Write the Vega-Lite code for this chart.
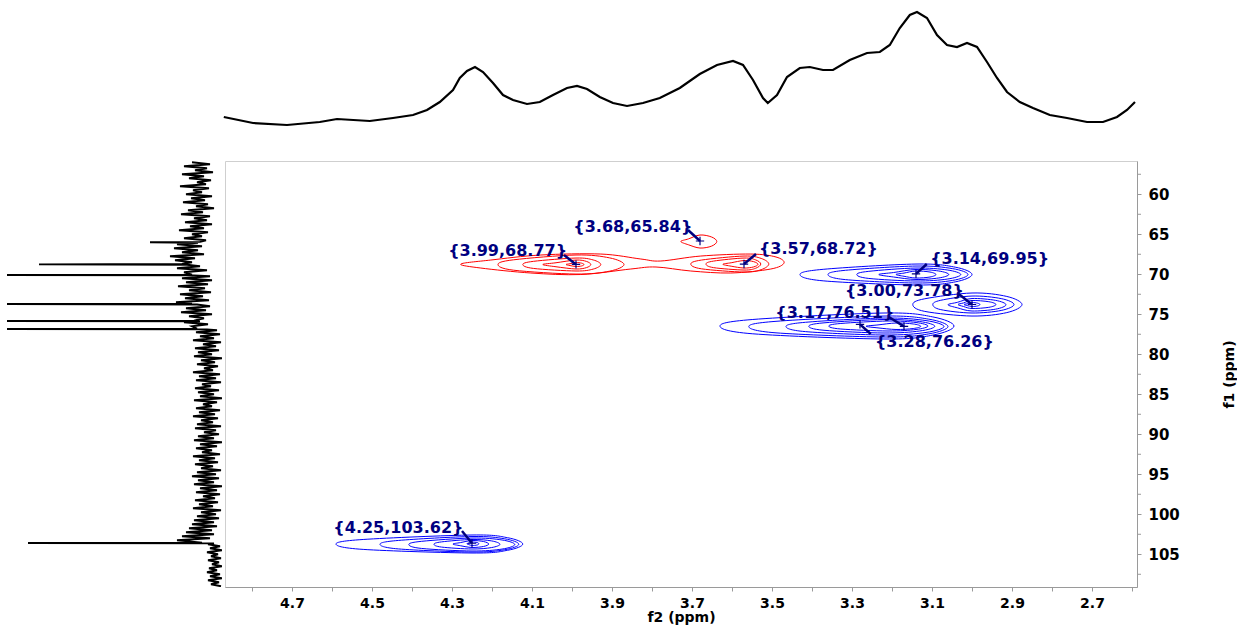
{
  "$schema": "https://vega.github.io/schema/vega-lite/v6.json",
  "padding": 0,
  "spacing": 2,
  "config": {
    "view": {"stroke": null},
    "font": "DejaVu Sans"
  },
  "datasets": {
    "proj1h": [
      {"f2":4.868,"i":41},{"f2":4.795,"i":35},{"f2":4.710,"i":33},{"f2":4.628,"i":36},{"f2":4.585,"i":39},
      {"f2":4.503,"i":37},{"f2":4.445,"i":40},{"f2":4.395,"i":43},{"f2":4.360,"i":48},{"f2":4.328,"i":56},
      {"f2":4.295,"i":68},{"f2":4.278,"i":80},{"f2":4.260,"i":87},{"f2":4.240,"i":91},{"f2":4.220,"i":86},
      {"f2":4.195,"i":75},{"f2":4.170,"i":63},{"f2":4.145,"i":58},{"f2":4.110,"i":54},{"f2":4.078,"i":56},
      {"f2":4.045,"i":63},{"f2":4.010,"i":70},{"f2":3.985,"i":72},{"f2":3.960,"i":69},{"f2":3.928,"i":61},
      {"f2":3.895,"i":55},{"f2":3.860,"i":52},{"f2":3.820,"i":55},{"f2":3.778,"i":60},{"f2":3.728,"i":70},
      {"f2":3.678,"i":84},{"f2":3.635,"i":93},{"f2":3.595,"i":97},{"f2":3.570,"i":93},{"f2":3.545,"i":78},
      {"f2":3.520,"i":60},{"f2":3.508,"i":55},{"f2":3.485,"i":63},{"f2":3.460,"i":81},{"f2":3.428,"i":90},
      {"f2":3.403,"i":91},{"f2":3.370,"i":88},{"f2":3.345,"i":88},{"f2":3.303,"i":98},{"f2":3.260,"i":105},
      {"f2":3.228,"i":106},{"f2":3.203,"i":113},{"f2":3.178,"i":130},{"f2":3.153,"i":143},{"f2":3.135,"i":146},
      {"f2":3.110,"i":140},{"f2":3.085,"i":123},{"f2":3.060,"i":113},{"f2":3.035,"i":111},{"f2":3.010,"i":115},
      {"f2":2.985,"i":111},{"f2":2.960,"i":96},{"f2":2.935,"i":80},{"f2":2.910,"i":66},{"f2":2.878,"i":56},
      {"f2":2.845,"i":50},{"f2":2.803,"i":43},{"f2":2.760,"i":40},{"f2":2.710,"i":36},{"f2":2.670,"i":36},
      {"f2":2.635,"i":41},{"f2":2.610,"i":48},{"f2":2.590,"i":56}
    ],
    "proj13c": [
      {"f1":56.00,"i":30},{"f1":56.25,"i":12},{"f1":56.50,"i":38},{"f1":56.75,"i":15},{"f1":57.00,"i":27},
      {"f1":57.25,"i":9},{"f1":57.50,"i":40},{"f1":57.75,"i":18},{"f1":58.00,"i":33},{"f1":58.25,"i":11},
      {"f1":58.50,"i":25},{"f1":58.75,"i":16},{"f1":59.00,"i":42},{"f1":59.25,"i":13},{"f1":59.50,"i":29},
      {"f1":59.75,"i":20},{"f1":60.00,"i":36},{"f1":60.25,"i":10},{"f1":60.50,"i":31},{"f1":60.75,"i":17},
      {"f1":61.00,"i":39},{"f1":61.25,"i":14},{"f1":61.50,"i":26},{"f1":61.75,"i":8},{"f1":62.00,"i":34},
      {"f1":62.25,"i":19},{"f1":62.50,"i":41},{"f1":62.75,"i":12},{"f1":63.00,"i":28},{"f1":63.25,"i":15},
      {"f1":63.50,"i":37},{"f1":63.75,"i":10},{"f1":64.00,"i":32},{"f1":64.25,"i":18},{"f1":64.50,"i":43},
      {"f1":64.75,"i":14},{"f1":65.00,"i":30},{"f1":65.25,"i":20},{"f1":65.50,"i":38},{"f1":65.75,"i":16},
      {"f1":65.95,"i":22},{"f1":66.00,"i":72},{"f1":66.05,"i":24},
      {"f1":66.25,"i":45},{"f1":66.50,"i":20},{"f1":66.75,"i":48},{"f1":67.00,"i":24},{"f1":67.25,"i":40},
      {"f1":67.50,"i":18},{"f1":67.75,"i":52},{"f1":68.00,"i":27},{"f1":68.25,"i":47},{"f1":68.50,"i":30},
      {"f1":68.71,"i":40},{"f1":68.76,"i":183},{"f1":68.81,"i":35},
      {"f1":69.00,"i":22},{"f1":69.25,"i":45},{"f1":69.50,"i":15},{"f1":69.75,"i":38},
      {"f1":70.04,"i":30},{"f1":70.09,"i":215},{"f1":70.14,"i":28},
      {"f1":70.25,"i":12},{"f1":70.50,"i":40},{"f1":70.75,"i":10},{"f1":71.00,"i":36},{"f1":71.25,"i":14},
      {"f1":71.50,"i":44},{"f1":71.75,"i":17},{"f1":72.00,"i":33},{"f1":72.25,"i":11},{"f1":72.50,"i":42},
      {"f1":72.75,"i":19},{"f1":73.00,"i":37},{"f1":73.25,"i":13},{"f1":73.50,"i":46},
      {"f1":73.67,"i":30},{"f1":73.72,"i":215},{"f1":73.77,"i":25},
      {"f1":74.00,"i":12},{"f1":74.25,"i":36},{"f1":74.50,"i":16},{"f1":74.75,"i":41},{"f1":75.00,"i":10},
      {"f1":75.25,"i":33},{"f1":75.50,"i":18},
      {"f1":75.79,"i":28},{"f1":75.84,"i":215},{"f1":75.89,"i":22},
      {"f1":76.00,"i":38},{"f1":76.25,"i":14},{"f1":76.50,"i":30},
      {"f1":76.79,"i":25},{"f1":76.84,"i":215},{"f1":76.89,"i":15},
      {"f1":77.00,"i":5},{"f1":77.25,"i":26},{"f1":77.50,"i":2},{"f1":77.75,"i":22},{"f1":78.00,"i":8},
      {"f1":78.25,"i":29},{"f1":78.50,"i":1},{"f1":78.75,"i":19},{"f1":79.00,"i":6},{"f1":79.25,"i":27},
      {"f1":79.50,"i":3},{"f1":79.75,"i":24},{"f1":80.00,"i":10},{"f1":80.25,"i":28},{"f1":80.50,"i":0},
      {"f1":80.75,"i":21},{"f1":81.00,"i":7},{"f1":81.25,"i":25},{"f1":81.50,"i":4},{"f1":81.75,"i":18},
      {"f1":82.00,"i":9},{"f1":82.25,"i":29},{"f1":82.50,"i":2},{"f1":82.75,"i":23},{"f1":83.00,"i":6},
      {"f1":83.25,"i":26},{"f1":83.50,"i":1},{"f1":83.75,"i":20},{"f1":84.00,"i":11},{"f1":84.25,"i":27},
      {"f1":84.50,"i":3},{"f1":84.75,"i":24},{"f1":85.00,"i":8},{"f1":85.25,"i":22},{"f1":85.50,"i":0},
      {"f1":85.75,"i":28},{"f1":86.00,"i":5},{"f1":86.25,"i":19},{"f1":86.50,"i":10},{"f1":86.75,"i":26},
      {"f1":87.00,"i":2},{"f1":87.25,"i":23},{"f1":87.50,"i":7},{"f1":87.75,"i":29},{"f1":88.00,"i":4},
      {"f1":88.25,"i":21},{"f1":88.50,"i":9},{"f1":88.75,"i":25},{"f1":89.00,"i":1},{"f1":89.25,"i":27},
      {"f1":89.50,"i":6},{"f1":89.75,"i":18},{"f1":90.00,"i":3},{"f1":90.25,"i":24},{"f1":90.50,"i":8},
      {"f1":90.75,"i":28},{"f1":91.00,"i":0},{"f1":91.25,"i":22},{"f1":91.50,"i":5},{"f1":91.75,"i":26},
      {"f1":92.00,"i":10},{"f1":92.25,"i":20},{"f1":92.50,"i":2},{"f1":92.75,"i":29},{"f1":93.00,"i":7},
      {"f1":93.25,"i":23},{"f1":93.50,"i":4},{"f1":93.75,"i":27},{"f1":94.00,"i":9},{"f1":94.25,"i":21},
      {"f1":94.50,"i":1},{"f1":94.75,"i":25},{"f1":95.00,"i":6},{"f1":95.25,"i":30},{"f1":95.50,"i":3},
      {"f1":95.75,"i":24},{"f1":96.00,"i":8},{"f1":96.25,"i":28},{"f1":96.50,"i":0},{"f1":96.75,"i":22},
      {"f1":97.00,"i":5},{"f1":97.25,"i":26},{"f1":97.50,"i":2},{"f1":97.75,"i":19},{"f1":98.00,"i":7},
      {"f1":98.25,"i":27},{"f1":98.50,"i":4},{"f1":98.75,"i":23},{"f1":99.00,"i":9},{"f1":99.25,"i":29},
      {"f1":99.50,"i":1},{"f1":99.75,"i":21},{"f1":100.00,"i":6},{"f1":100.25,"i":25},{"f1":100.50,"i":3},
      {"f1":100.75,"i":28},{"f1":101.00,"i":8},{"f1":101.25,"i":30},{"f1":101.50,"i":5},{"f1":101.75,"i":33},
      {"f1":102.00,"i":10},{"f1":102.25,"i":36},{"f1":102.50,"i":8},{"f1":102.75,"i":40},{"f1":103.00,"i":12},
      {"f1":103.25,"i":45},
      {"f1":103.54,"i":20},{"f1":103.59,"i":194},{"f1":103.64,"i":8},
      {"f1":103.75,"i":14},{"f1":104.00,"i":2},{"f1":104.25,"i":12},{"f1":104.50,"i":0},{"f1":104.75,"i":15},
      {"f1":105.00,"i":4},{"f1":105.25,"i":11},{"f1":105.50,"i":1},{"f1":105.75,"i":14},{"f1":106.00,"i":3},
      {"f1":106.25,"i":10},{"f1":106.50,"i":0},{"f1":106.75,"i":13},{"f1":107.00,"i":5},{"f1":107.25,"i":15},
      {"f1":107.50,"i":2},{"f1":107.75,"i":12},{"f1":108.00,"i":0},{"f1":108.25,"i":14},{"f1":108.50,"i":3},
      {"f1":108.75,"i":11},{"f1":109.00,"i":1}
    ],
    "yminor": [
      {"f1":57.5},{"f1":62.5},{"f1":67.5},{"f1":72.5},{"f1":77.5},{"f1":82.5},
      {"f1":87.5},{"f1":92.5},{"f1":97.5},{"f1":102.5},{"f1":107.5}
    ],
    "contours": [
      {"c":"R0","s":"neg","k":0,"x":4.278,"y":68.72},{"c":"R0","s":"neg","k":1,"x":4.203,"y":68.22},
      {"c":"R0","s":"neg","k":2,"x":4.078,"y":67.59},{"c":"R0","s":"neg","k":3,"x":3.928,"y":67.47},
      {"c":"R0","s":"neg","k":4,"x":3.828,"y":68.09},{"c":"R0","s":"neg","k":5,"x":3.778,"y":68.34},
      {"c":"R0","s":"neg","k":6,"x":3.678,"y":67.72},{"c":"R0","s":"neg","k":7,"x":3.553,"y":67.47},
      {"c":"R0","s":"neg","k":8,"x":3.490,"y":67.84},{"c":"R0","s":"neg","k":9,"x":3.470,"y":68.59},
      {"c":"R0","s":"neg","k":10,"x":3.503,"y":69.34},{"c":"R0","s":"neg","k":11,"x":3.603,"y":69.84},
      {"c":"R0","s":"neg","k":12,"x":3.703,"y":69.59},{"c":"R0","s":"neg","k":13,"x":3.790,"y":69.09},
      {"c":"R0","s":"neg","k":14,"x":3.853,"y":69.34},{"c":"R0","s":"neg","k":15,"x":3.978,"y":70.03},
      {"c":"R0","s":"neg","k":16,"x":4.103,"y":69.84},{"c":"R0","s":"neg","k":17,"x":4.228,"y":69.22},

      {"c":"R1","s":"neg","k":0,"x":4.185,"y":68.78},{"c":"R1","s":"neg","k":1,"x":4.146,"y":68.19},
      {"c":"R1","s":"neg","k":2,"x":3.990,"y":67.59},{"c":"R1","s":"neg","k":3,"x":3.906,"y":67.95},
      {"c":"R1","s":"neg","k":4,"x":3.870,"y":68.78},{"c":"R1","s":"neg","k":5,"x":3.906,"y":69.61},
      {"c":"R1","s":"neg","k":6,"x":3.990,"y":69.97},{"c":"R1","s":"neg","k":7,"x":4.146,"y":69.49},

      {"c":"R2","s":"neg","k":0,"x":4.123,"y":68.78},{"c":"R2","s":"neg","k":1,"x":4.096,"y":68.38},
      {"c":"R2","s":"neg","k":2,"x":3.990,"y":67.97},{"c":"R2","s":"neg","k":3,"x":3.947,"y":68.21},
      {"c":"R2","s":"neg","k":4,"x":3.928,"y":68.78},{"c":"R2","s":"neg","k":5,"x":3.947,"y":69.35},
      {"c":"R2","s":"neg","k":6,"x":3.990,"y":69.59},{"c":"R2","s":"neg","k":7,"x":4.096,"y":69.27},

      {"c":"R3","s":"neg","k":0,"x":4.073,"y":68.78},{"c":"R3","s":"neg","k":1,"x":4.040,"y":68.56},
      {"c":"R3","s":"neg","k":2,"x":3.990,"y":68.22},{"c":"R3","s":"neg","k":3,"x":3.964,"y":68.39},
      {"c":"R3","s":"neg","k":4,"x":3.953,"y":68.78},{"c":"R3","s":"neg","k":5,"x":3.964,"y":69.17},
      {"c":"R3","s":"neg","k":6,"x":3.990,"y":69.34},{"c":"R3","s":"neg","k":7,"x":4.040,"y":69.06},

      {"c":"R4","s":"neg","k":0,"x":4.015,"y":68.78},{"c":"R4","s":"neg","k":1,"x":4.005,"y":68.68},
      {"c":"R4","s":"neg","k":2,"x":3.990,"y":68.53},{"c":"R4","s":"neg","k":3,"x":3.976,"y":68.61},
      {"c":"R4","s":"neg","k":4,"x":3.970,"y":68.78},{"c":"R4","s":"neg","k":5,"x":3.976,"y":68.96},
      {"c":"R4","s":"neg","k":6,"x":3.990,"y":69.03},{"c":"R4","s":"neg","k":7,"x":4.005,"y":68.91},

      {"c":"R5","s":"neg","k":0,"x":3.703,"y":68.72},{"c":"R5","s":"neg","k":1,"x":3.676,"y":68.22},
      {"c":"R5","s":"neg","k":2,"x":3.570,"y":67.72},{"c":"R5","s":"neg","k":3,"x":3.527,"y":68.02},
      {"c":"R5","s":"neg","k":4,"x":3.508,"y":68.72},{"c":"R5","s":"neg","k":5,"x":3.527,"y":69.42},
      {"c":"R5","s":"neg","k":6,"x":3.570,"y":69.72},{"c":"R5","s":"neg","k":7,"x":3.676,"y":69.32},

      {"c":"R6","s":"neg","k":0,"x":3.665,"y":68.72},{"c":"R6","s":"neg","k":1,"x":3.646,"y":68.35},
      {"c":"R6","s":"neg","k":2,"x":3.570,"y":67.97},{"c":"R6","s":"neg","k":3,"x":3.541,"y":68.20},
      {"c":"R6","s":"neg","k":4,"x":3.528,"y":68.72},{"c":"R6","s":"neg","k":5,"x":3.541,"y":69.25},
      {"c":"R6","s":"neg","k":6,"x":3.570,"y":69.47},{"c":"R6","s":"neg","k":7,"x":3.646,"y":69.17},

      {"c":"R7","s":"neg","k":0,"x":3.623,"y":68.75},{"c":"R7","s":"neg","k":1,"x":3.602,"y":68.56},
      {"c":"R7","s":"neg","k":2,"x":3.570,"y":68.28},{"c":"R7","s":"neg","k":3,"x":3.546,"y":68.42},
      {"c":"R7","s":"neg","k":4,"x":3.535,"y":68.75},{"c":"R7","s":"neg","k":5,"x":3.546,"y":69.08},
      {"c":"R7","s":"neg","k":6,"x":3.570,"y":69.22},{"c":"R7","s":"neg","k":7,"x":3.602,"y":68.99},

      {"c":"R8","s":"neg","k":0,"x":3.728,"y":65.90},{"c":"R8","s":"neg","k":1,"x":3.709,"y":65.58},
      {"c":"R8","s":"neg","k":2,"x":3.680,"y":65.09},{"c":"R8","s":"neg","k":3,"x":3.651,"y":65.34},
      {"c":"R8","s":"neg","k":4,"x":3.638,"y":65.90},{"c":"R8","s":"neg","k":5,"x":3.651,"y":66.48},
      {"c":"R8","s":"neg","k":6,"x":3.680,"y":66.72},{"c":"R8","s":"neg","k":7,"x":3.709,"y":66.31},

      {"c":"A1","s":"pos","k":0,"x":3.430,"y":70.03},{"c":"A1","s":"pos","k":1,"x":3.372,"y":69.38},
      {"c":"A1","s":"pos","k":2,"x":3.140,"y":68.72},{"c":"A1","s":"pos","k":3,"x":3.042,"y":69.11},
      {"c":"A1","s":"pos","k":4,"x":3.000,"y":70.03},{"c":"A1","s":"pos","k":5,"x":3.042,"y":70.95},
      {"c":"A1","s":"pos","k":6,"x":3.140,"y":71.34},{"c":"A1","s":"pos","k":7,"x":3.372,"y":70.82},

      {"c":"A2","s":"pos","k":0,"x":3.360,"y":70.03},{"c":"A2","s":"pos","k":1,"x":3.316,"y":69.50},
      {"c":"A2","s":"pos","k":2,"x":3.140,"y":68.97},{"c":"A2","s":"pos","k":3,"x":3.049,"y":69.29},
      {"c":"A2","s":"pos","k":4,"x":3.010,"y":70.03},{"c":"A2","s":"pos","k":5,"x":3.049,"y":70.77},
      {"c":"A2","s":"pos","k":6,"x":3.140,"y":71.09},{"c":"A2","s":"pos","k":7,"x":3.316,"y":70.67},

      {"c":"A3","s":"pos","k":0,"x":3.288,"y":70.03},{"c":"A3","s":"pos","k":1,"x":3.258,"y":69.63},
      {"c":"A3","s":"pos","k":2,"x":3.140,"y":69.22},{"c":"A3","s":"pos","k":3,"x":3.062,"y":69.46},
      {"c":"A3","s":"pos","k":4,"x":3.028,"y":70.03},{"c":"A3","s":"pos","k":5,"x":3.062,"y":70.60},
      {"c":"A3","s":"pos","k":6,"x":3.140,"y":70.84},{"c":"A3","s":"pos","k":7,"x":3.258,"y":70.52},

      {"c":"A4","s":"pos","k":0,"x":3.233,"y":70.03},{"c":"A4","s":"pos","k":1,"x":3.196,"y":69.78},
      {"c":"A4","s":"pos","k":2,"x":3.140,"y":69.40},{"c":"A4","s":"pos","k":3,"x":3.083,"y":69.59},
      {"c":"A4","s":"pos","k":4,"x":3.058,"y":70.03},{"c":"A4","s":"pos","k":5,"x":3.083,"y":70.46},
      {"c":"A4","s":"pos","k":6,"x":3.140,"y":70.65},{"c":"A4","s":"pos","k":7,"x":3.196,"y":70.34},

      {"c":"A5","s":"pos","k":0,"x":3.190,"y":70.03},{"c":"A5","s":"pos","k":1,"x":3.170,"y":69.85},
      {"c":"A5","s":"pos","k":2,"x":3.140,"y":69.59},{"c":"A5","s":"pos","k":3,"x":3.105,"y":69.72},
      {"c":"A5","s":"pos","k":4,"x":3.090,"y":70.03},{"c":"A5","s":"pos","k":5,"x":3.105,"y":70.34},
      {"c":"A5","s":"pos","k":6,"x":3.140,"y":70.47},{"c":"A5","s":"pos","k":7,"x":3.170,"y":70.25},

      {"c":"B1","s":"pos","k":0,"x":3.148,"y":73.78},{"c":"B1","s":"pos","k":1,"x":3.118,"y":73.06},
      {"c":"B1","s":"pos","k":2,"x":3.000,"y":72.34},{"c":"B1","s":"pos","k":3,"x":2.913,"y":72.77},
      {"c":"B1","s":"pos","k":4,"x":2.875,"y":73.78},{"c":"B1","s":"pos","k":5,"x":2.913,"y":74.79},
      {"c":"B1","s":"pos","k":6,"x":3.000,"y":75.22},{"c":"B1","s":"pos","k":7,"x":3.118,"y":74.64},

      {"c":"B2","s":"pos","k":0,"x":3.098,"y":73.78},{"c":"B2","s":"pos","k":1,"x":3.078,"y":73.25},
      {"c":"B2","s":"pos","k":2,"x":3.000,"y":72.72},{"c":"B2","s":"pos","k":3,"x":2.927,"y":73.04},
      {"c":"B2","s":"pos","k":4,"x":2.895,"y":73.78},{"c":"B2","s":"pos","k":5,"x":2.927,"y":74.52},
      {"c":"B2","s":"pos","k":6,"x":3.000,"y":74.84},{"c":"B2","s":"pos","k":7,"x":3.078,"y":74.42},

      {"c":"B3","s":"pos","k":0,"x":3.060,"y":73.81},{"c":"B3","s":"pos","k":1,"x":3.036,"y":73.50},
      {"c":"B3","s":"pos","k":2,"x":3.000,"y":73.03},{"c":"B3","s":"pos","k":3,"x":2.941,"y":73.26},
      {"c":"B3","s":"pos","k":4,"x":2.915,"y":73.81},{"c":"B3","s":"pos","k":5,"x":2.941,"y":74.36},
      {"c":"B3","s":"pos","k":6,"x":3.000,"y":74.59},{"c":"B3","s":"pos","k":7,"x":3.036,"y":74.20},

      {"c":"B4","s":"pos","k":0,"x":3.035,"y":73.78},{"c":"B4","s":"pos","k":1,"x":3.021,"y":73.58},
      {"c":"B4","s":"pos","k":2,"x":3.000,"y":73.28},{"c":"B4","s":"pos","k":3,"x":2.958,"y":73.43},
      {"c":"B4","s":"pos","k":4,"x":2.940,"y":73.78},{"c":"B4","s":"pos","k":5,"x":2.958,"y":74.13},
      {"c":"B4","s":"pos","k":6,"x":3.000,"y":74.28},{"c":"B4","s":"pos","k":7,"x":3.021,"y":74.03},

      {"c":"B5","s":"pos","k":0,"x":3.020,"y":73.78},{"c":"B5","s":"pos","k":1,"x":3.012,"y":73.68},
      {"c":"B5","s":"pos","k":2,"x":3.000,"y":73.53},{"c":"B5","s":"pos","k":3,"x":2.986,"y":73.61},
      {"c":"B5","s":"pos","k":4,"x":2.980,"y":73.78},{"c":"B5","s":"pos","k":5,"x":2.986,"y":73.96},
      {"c":"B5","s":"pos","k":6,"x":3.000,"y":74.03},{"c":"B5","s":"pos","k":7,"x":3.012,"y":73.91},

      {"c":"C1","s":"pos","k":0,"x":3.630,"y":76.47},{"c":"C1","s":"pos","k":1,"x":3.548,"y":75.65},
      {"c":"C1","s":"pos","k":2,"x":3.220,"y":74.84},{"c":"C1","s":"pos","k":3,"x":3.098,"y":75.33},
      {"c":"C1","s":"pos","k":4,"x":3.045,"y":76.47},{"c":"C1","s":"pos","k":5,"x":3.098,"y":77.60},
      {"c":"C1","s":"pos","k":6,"x":3.220,"y":78.09},{"c":"C1","s":"pos","k":7,"x":3.548,"y":77.44},

      {"c":"C2","s":"pos","k":0,"x":3.558,"y":76.53},{"c":"C2","s":"pos","k":1,"x":3.490,"y":75.88},
      {"c":"C2","s":"pos","k":2,"x":3.220,"y":75.22},{"c":"C2","s":"pos","k":3,"x":3.108,"y":75.61},
      {"c":"C2","s":"pos","k":4,"x":3.060,"y":76.53},{"c":"C2","s":"pos","k":5,"x":3.108,"y":77.45},
      {"c":"C2","s":"pos","k":6,"x":3.220,"y":77.84},{"c":"C2","s":"pos","k":7,"x":3.490,"y":77.32},

      {"c":"C3","s":"pos","k":0,"x":3.465,"y":76.53},{"c":"C3","s":"pos","k":1,"x":3.416,"y":76.00},
      {"c":"C3","s":"pos","k":2,"x":3.220,"y":75.47},{"c":"C3","s":"pos","k":3,"x":3.115,"y":75.79},
      {"c":"C3","s":"pos","k":4,"x":3.070,"y":76.53},{"c":"C3","s":"pos","k":5,"x":3.115,"y":77.27},
      {"c":"C3","s":"pos","k":6,"x":3.220,"y":77.59},{"c":"C3","s":"pos","k":7,"x":3.416,"y":77.17},

      {"c":"C4","s":"pos","k":0,"x":3.408,"y":76.50},{"c":"C4","s":"pos","k":1,"x":3.370,"y":76.07},
      {"c":"C4","s":"pos","k":2,"x":3.220,"y":75.65},{"c":"C4","s":"pos","k":3,"x":3.131,"y":75.90},
      {"c":"C4","s":"pos","k":4,"x":3.093,"y":76.50},{"c":"C4","s":"pos","k":5,"x":3.131,"y":77.09},
      {"c":"C4","s":"pos","k":6,"x":3.220,"y":77.34},{"c":"C4","s":"pos","k":7,"x":3.370,"y":77.00},

      {"c":"C5","s":"pos","k":0,"x":3.358,"y":76.47},{"c":"C5","s":"pos","k":1,"x":3.328,"y":76.15},
      {"c":"C5","s":"pos","k":2,"x":3.210,"y":75.84},{"c":"C5","s":"pos","k":3,"x":3.140,"y":76.03},
      {"c":"C5","s":"pos","k":4,"x":3.110,"y":76.47},{"c":"C5","s":"pos","k":5,"x":3.140,"y":76.90},
      {"c":"C5","s":"pos","k":6,"x":3.210,"y":77.09},{"c":"C5","s":"pos","k":7,"x":3.328,"y":76.84},

      {"c":"C6","s":"pos","k":0,"x":3.265,"y":76.50},{"c":"C6","s":"pos","k":1,"x":3.235,"y":76.33},
      {"c":"C6","s":"pos","k":2,"x":3.190,"y":76.09},{"c":"C6","s":"pos","k":3,"x":3.147,"y":76.21},
      {"c":"C6","s":"pos","k":4,"x":3.128,"y":76.50},{"c":"C6","s":"pos","k":5,"x":3.147,"y":76.78},
      {"c":"C6","s":"pos","k":6,"x":3.190,"y":76.90},{"c":"C6","s":"pos","k":7,"x":3.235,"y":76.70},

      {"c":"D1","s":"pos","k":0,"x":4.590,"y":103.72},{"c":"D1","s":"pos","k":1,"x":4.522,"y":103.15},
      {"c":"D1","s":"pos","k":2,"x":4.250,"y":102.59},{"c":"D1","s":"pos","k":3,"x":4.161,"y":102.93},
      {"c":"D1","s":"pos","k":4,"x":4.123,"y":103.72},{"c":"D1","s":"pos","k":5,"x":4.161,"y":104.50},
      {"c":"D1","s":"pos","k":6,"x":4.250,"y":104.84},{"c":"D1","s":"pos","k":7,"x":4.522,"y":104.39},

      {"c":"D2","s":"pos","k":0,"x":4.480,"y":103.75},{"c":"D2","s":"pos","k":1,"x":4.434,"y":103.27},
      {"c":"D2","s":"pos","k":2,"x":4.250,"y":102.78},{"c":"D2","s":"pos","k":3,"x":4.168,"y":103.07},
      {"c":"D2","s":"pos","k":4,"x":4.133,"y":103.75},{"c":"D2","s":"pos","k":5,"x":4.168,"y":104.43},
      {"c":"D2","s":"pos","k":6,"x":4.250,"y":104.72},{"c":"D2","s":"pos","k":7,"x":4.434,"y":104.33},

      {"c":"D3","s":"pos","k":0,"x":4.408,"y":103.78},{"c":"D3","s":"pos","k":1,"x":4.376,"y":103.38},
      {"c":"D3","s":"pos","k":2,"x":4.250,"y":102.97},{"c":"D3","s":"pos","k":3,"x":4.175,"y":103.21},
      {"c":"D3","s":"pos","k":4,"x":4.143,"y":103.78},{"c":"D3","s":"pos","k":5,"x":4.175,"y":104.35},
      {"c":"D3","s":"pos","k":6,"x":4.250,"y":104.59},{"c":"D3","s":"pos","k":7,"x":4.376,"y":104.27},

      {"c":"D4","s":"pos","k":0,"x":4.345,"y":103.75},{"c":"D4","s":"pos","k":1,"x":4.326,"y":103.45},
      {"c":"D4","s":"pos","k":2,"x":4.250,"y":103.15},{"c":"D4","s":"pos","k":3,"x":4.201,"y":103.33},
      {"c":"D4","s":"pos","k":4,"x":4.180,"y":103.75},{"c":"D4","s":"pos","k":5,"x":4.201,"y":104.16},
      {"c":"D4","s":"pos","k":6,"x":4.250,"y":104.34},{"c":"D4","s":"pos","k":7,"x":4.326,"y":104.10},

      {"c":"D5","s":"pos","k":0,"x":4.298,"y":103.72},{"c":"D5","s":"pos","k":1,"x":4.279,"y":103.54},
      {"c":"D5","s":"pos","k":2,"x":4.250,"y":103.28},{"c":"D5","s":"pos","k":3,"x":4.221,"y":103.41},
      {"c":"D5","s":"pos","k":4,"x":4.208,"y":103.72},{"c":"D5","s":"pos","k":5,"x":4.221,"y":104.02},
      {"c":"D5","s":"pos","k":6,"x":4.250,"y":104.15},{"c":"D5","s":"pos","k":7,"x":4.279,"y":103.93},

      {"c":"D6","s":"pos","k":0,"x":4.263,"y":103.69},{"c":"D6","s":"pos","k":1,"x":4.258,"y":103.60},
      {"c":"D6","s":"pos","k":2,"x":4.250,"y":103.47},{"c":"D6","s":"pos","k":3,"x":4.237,"y":103.53},
      {"c":"D6","s":"pos","k":4,"x":4.233,"y":103.69},{"c":"D6","s":"pos","k":5,"x":4.237,"y":103.84},
      {"c":"D6","s":"pos","k":6,"x":4.250,"y":103.90},{"c":"D6","s":"pos","k":7,"x":4.258,"y":103.79}
    ],
    "peaks": [
      {"t":"{3.68,65.84}","px":3.68,"py":65.84,"ax":3.710,"ay":64.47,"lx":3.848,"ly":64.09},
      {"t":"{3.99,68.77}","px":3.99,"py":68.77,"ax":4.020,"ay":67.59,"lx":4.161,"ly":67.03},
      {"t":"{3.57,68.72}","px":3.57,"py":68.72,"ax":3.540,"ay":67.47,"lx":3.384,"ly":66.90},
      {"t":"{3.14,69.95}","px":3.14,"py":69.95,"ax":3.113,"ay":68.72,"lx":2.956,"ly":68.15},
      {"t":"{3.00,73.78}","px":3.00,"py":73.78,"ax":3.033,"ay":72.47,"lx":3.169,"ly":72.09},
      {"t":"{3.17,76.51}","px":3.17,"py":76.51,"ax":3.208,"ay":75.34,"lx":3.343,"ly":74.84},
      {"t":"{3.28,76.26}","px":3.28,"py":76.26,"ax":3.253,"ay":77.47,"lx":3.094,"ly":78.47},
      {"t":"{4.25,103.62}","px":4.25,"py":103.62,"ax":4.275,"ay":102.09,"lx":4.434,"ly":101.72}
    ]
  },
  "vconcat": [
    {
      "width": 1136,
      "height": 158,
      "data": {"name": "proj1h"},
      "mark": {"type": "line", "color": "#000000", "strokeWidth": 2.2},
      "encoding": {
        "x": {"field": "f2", "type": "quantitative", "scale": {"domain": [2.5875, 5.4275], "reverse": true, "nice": false, "zero": false}, "axis": null},
        "y": {"field": "i", "type": "quantitative", "scale": {"domain": [0, 158], "nice": false, "zero": false}, "axis": null}
      }
    },
    {
      "spacing": 2,
      "resolve": {"scale": {"x": "independent", "y": "independent"}},
      "hconcat": [
        {
          "width": 222,
          "height": 426,
          "data": {"name": "proj13c"},
          "mark": {"type": "line", "color": "#000000", "strokeWidth": 1.9, "clip": true},
          "encoding": {
            "x": {"field": "i", "type": "quantitative", "scale": {"domain": [0, 222], "reverse": true, "nice": false, "zero": false}, "axis": null},
            "y": {"field": "f1", "type": "quantitative", "scale": {"domain": [55.84, 109.09], "reverse": true, "nice": false, "zero": false}, "axis": null},
            "order": {"field": "f1", "type": "quantitative"}
          }
        },
        {
          "width": 912,
          "height": 426,
          "view": {"stroke": "#cfcfcf"},
          "layer": [
            {
              "data": {"name": "contours"},
              "mark": {"type": "line", "interpolate": "cardinal-closed", "strokeWidth": 1},
              "encoding": {
                "x": {
                  "field": "x", "type": "quantitative",
                  "scale": {"domain": [2.5875, 4.8675], "reverse": true, "nice": false, "zero": false},
                  "axis": {
                    "orient": "bottom",
                    "values": [4.85,4.8,4.75,4.7,4.65,4.6,4.55,4.5,4.45,4.4,4.35,4.3,4.25,4.2,4.15,4.1,4.05,4,3.95,3.9,3.85,3.8,3.75,3.7,3.65,3.6,3.55,3.5,3.45,3.4,3.35,3.3,3.25,3.2,3.15,3.1,3.05,3,2.95,2.9,2.85,2.8,2.75,2.7,2.65,2.6],
                    "labelExpr": "round(datum.value*100) % 20 === 10 ? format(datum.value, '.1f') : ''",
                    "labelOverlap": false,
                    "labelFlush": false,
                    "grid": false,
                    "domainColor": "#9a9a9a",
                    "tickColor": "#9a9a9a",
                    "tickSize": 4,
                    "labelFont": "DejaVu Sans",
                    "labelFontSize": 14,
                    "labelFontWeight": "bold",
                    "labelColor": "#000000",
                    "labelPadding": 5,
                    "title": "f2 (ppm)",
                    "titleFont": "DejaVu Sans",
                    "titleFontSize": 14,
                    "titleFontWeight": "bold",
                    "titleColor": "#000000",
                    "titlePadding": 0
                  }
                },
                "y": {
                  "field": "y", "type": "quantitative",
                  "scale": {"domain": [55.84, 109.09], "reverse": true, "nice": false, "zero": false},
                  "axis": {
                    "orient": "right",
                    "values": [60,65,70,75,80,85,90,95,100,105],
                    "format": "d",
                    "labelOverlap": false,
                    "grid": false,
                    "domainColor": "#9a9a9a",
                    "tickColor": "#9a9a9a",
                    "tickSize": 4,
                    "labelFont": "DejaVu Sans",
                    "labelFontSize": 15,
                    "labelFontWeight": "bold",
                    "labelColor": "#000000",
                    "labelPadding": 7,
                    "title": "f1 (ppm)",
                    "titleAngle": 270,
                    "titleFont": "DejaVu Sans",
                    "titleFontSize": 14,
                    "titleFontWeight": "bold",
                    "titleColor": "#000000",
                    "titlePadding": 57
                  }
                },
                "color": {"field": "s", "type": "nominal", "scale": {"domain": ["neg", "pos"], "range": ["#ff0000", "#0000ff"]}, "legend": null},
                "detail": {"field": "c"},
                "order": {"field": "k", "type": "quantitative"}
              }
            },
            {
              "data": {"name": "yminor"},
              "mark": {"type": "rule", "color": "#9a9a9a", "strokeWidth": 1},
              "encoding": {
                "x": {"datum": 2.5875, "type": "quantitative", "title": "f2 (ppm)"},
                "x2": {"datum": 2.5775},
                "y": {"field": "f1", "type": "quantitative", "title": "f1 (ppm)"}
              }
            },
            {
              "data": {"name": "peaks"},
              "mark": {"type": "rule", "color": "#000080", "strokeWidth": 2.5},
              "encoding": {
                "x": {"field": "ax", "type": "quantitative", "title": "f2 (ppm)"},
                "y": {"field": "ay", "type": "quantitative", "title": "f1 (ppm)"},
                "x2": {"field": "px"},
                "y2": {"field": "py"}
              }
            },
            {
              "data": {"name": "peaks"},
              "mark": {"type": "point", "shape": "M-1,0L1,0M0,-1L0,1", "size": 70, "filled": false, "stroke": "#000080", "strokeWidth": 1.2, "opacity": 1},
              "encoding": {
                "x": {"field": "px", "type": "quantitative", "title": "f2 (ppm)"},
                "y": {"field": "py", "type": "quantitative", "title": "f1 (ppm)"}
              }
            },
            {
              "data": {"name": "peaks"},
              "mark": {"type": "text", "font": "DejaVu Sans", "fontWeight": "bold", "fontSize": 16, "color": "#000080", "align": "center", "baseline": "middle"},
              "encoding": {
                "x": {"field": "lx", "type": "quantitative", "title": "f2 (ppm)"},
                "y": {"field": "ly", "type": "quantitative", "title": "f1 (ppm)"},
                "text": {"field": "t"}
              }
            }
          ]
        }
      ]
    }
  ],
  "resolve": {"scale": {"x": "independent", "y": "independent"}}
}
